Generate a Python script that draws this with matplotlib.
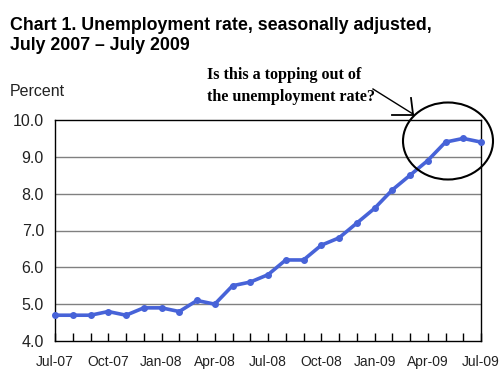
import matplotlib.pyplot as plt
from matplotlib.patches import Ellipse

# monthly unemployment rate, Jul-07 .. Jul-09
months = ['Jul-07', 'Aug-07', 'Sep-07', 'Oct-07', 'Nov-07', 'Dec-07',
          'Jan-08', 'Feb-08', 'Mar-08', 'Apr-08', 'May-08', 'Jun-08',
          'Jul-08', 'Aug-08', 'Sep-08', 'Oct-08', 'Nov-08', 'Dec-08',
          'Jan-09', 'Feb-09', 'Mar-09', 'Apr-09', 'May-09', 'Jun-09', 'Jul-09']
rate = [4.7, 4.7, 4.7, 4.8, 4.7, 4.9,
        4.9, 4.8, 5.1, 5.0, 5.5, 5.6,
        5.8, 6.2, 6.2, 6.6, 6.8, 7.2,
        7.6, 8.1, 8.5, 8.9, 9.4, 9.5, 9.4]
yticks = [4.0, 5.0, 6.0, 7.0, 8.0, 9.0, 10.0]

plt.rcParams['font.family'] = ['Liberation Sans', 'DejaVu Sans']

fig = plt.figure(figsize=(5.03, 3.87), dpi=100)
ax = fig.add_axes([55 / 503, 1 - 341 / 387, 426 / 503, 221 / 387])

x = list(range(len(months)))
ax.plot(x, rate, color='#4763d8', linewidth=2.6, marker='o', markersize=4,
        zorder=3, clip_on=False)

ax.set_xlim(0, len(months) - 1)
ax.set_ylim(4.0, 10.0)
ax.set_yticks(yticks)
ax.set_yticklabels([f'{v:.1f}' for v in yticks], fontsize=11.5, color='#222222')
ax.tick_params(axis='y', length=0, pad=8)
ax.set_xticks(x)
ax.set_xticklabels([m if i % 3 == 0 else '' for i, m in enumerate(months)],
                   fontsize=10, color='#222222')
ax.tick_params(axis='x', direction='in', length=6, width=1, pad=10)
for v in yticks[1:-1]:
    ax.axhline(v, color='#808080', linewidth=1, zorder=1)
for s in ax.spines.values():
    s.set_color('black')
    s.set_linewidth(1)

fig.text(10 / 503, 1 - 26 / 387, 'Chart 1. Unemployment rate, seasonally adjusted,',
         fontsize=12.75, fontweight='bold', va='center', ha='left')
fig.text(10 / 503, 1 - 46 / 387, 'July 2007 \u2013 July 2009',
         fontsize=12.75, fontweight='bold', va='center', ha='left')
fig.text(10 / 503, 1 - 91 / 387, 'Percent', fontsize=11.5, va='center',
         ha='left', color='#222222')

# hand-drawn style annotation
fig.text(207 / 503, 1 - 75 / 387, 'Is this a topping out of',
         family='Liberation Serif', fontweight='bold', fontsize=11.6,
         va='center', ha='left')
fig.text(207 / 503, 1 - 97 / 387, 'the unemployment rate?',
         family='Liberation Serif', fontweight='bold', fontsize=11.6,
         va='center', ha='left')
fig.add_artist(Ellipse((448 / 503, 1 - 141 / 387), 90 / 503, 77 / 387,
                       fill=False, edgecolor='black', linewidth=1.5,
                       transform=fig.transFigure))
fig.add_artist(plt.Line2D([373 / 503, 413 / 503], [1 - 89 / 387, 1 - 114 / 387],
                          color='black', linewidth=1, transform=fig.transFigure))
fig.add_artist(plt.Line2D([392 / 503, 413 / 503], [1 - 115 / 387, 1 - 115 / 387],
                          color='black', linewidth=1.3, transform=fig.transFigure))
fig.add_artist(plt.Line2D([411 / 503, 413 / 503], [1 - 98 / 387, 1 - 114 / 387],
                          color='black', linewidth=1.3, transform=fig.transFigure))

fig.savefig('out.png', dpi=100)
